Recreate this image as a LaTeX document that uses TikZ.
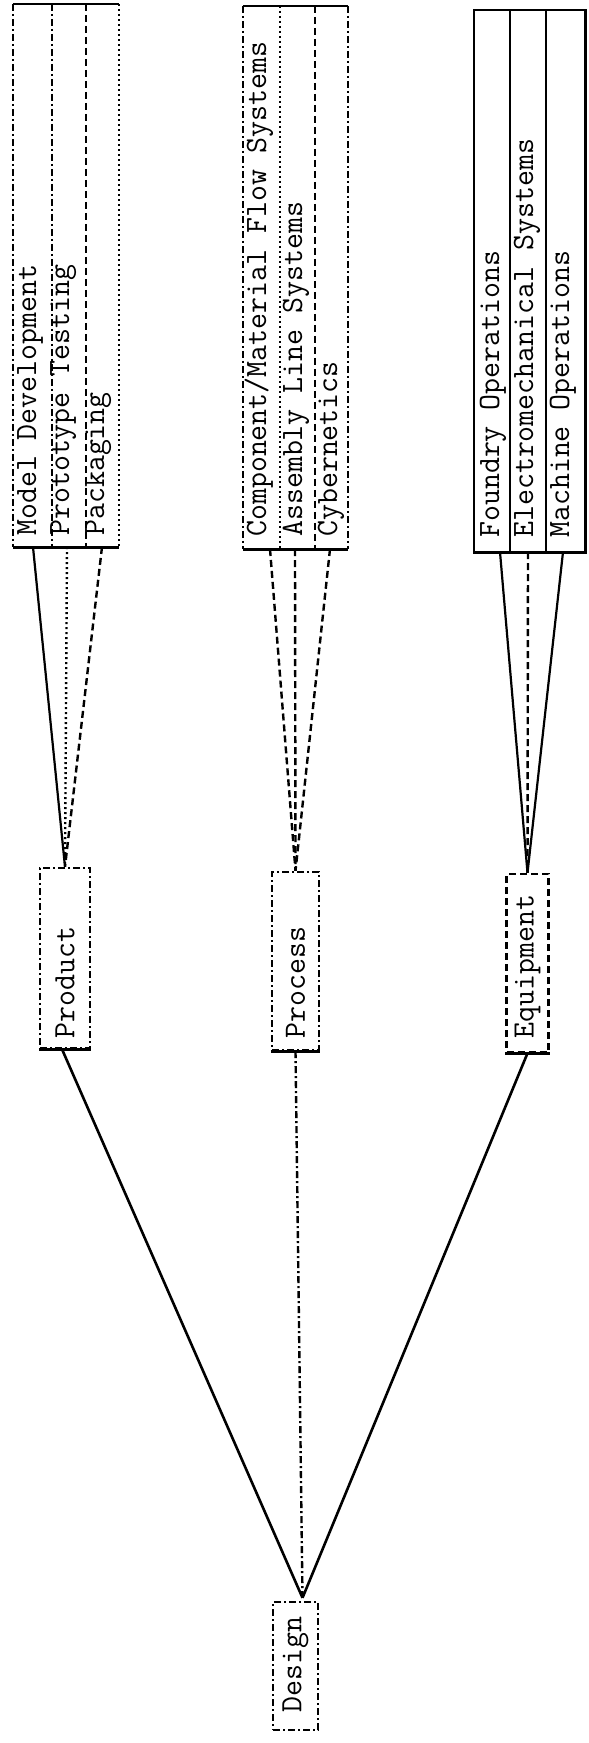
\documentclass[tikz,border=0pt]{standalone}
\usepackage{fontspec}
\usepackage{graphicx}
\usetikzlibrary{calc}
\newcommand{\twf}{\ttfamily\fontsize{31}{31}\selectfont\addfontfeatures{FakeBold=2.5}}
\newcommand{\rtext}[2]{\rotatebox{90}{\makebox[#1][l]{#2}}}
\begin{document}
\begin{tikzpicture}[x=1pt,y=-1pt,
  ln/.style={line width=2.6pt},
  thin/.style={line width=2.2pt},
  dd/.style={line width=2.4pt,dash pattern=on 7pt off 3pt on 2pt off 3pt},
  dsh/.style={line width=2.4pt,dash pattern=on 7pt off 4pt},
  dt/.style={line width=2.4pt,dash pattern=on 2pt off 3pt},
  tw/.style={font=\twf},
  lbl/.style={tw,rotate=90,anchor=mid west,inner sep=0pt},
  grp/.style={inner sep=0pt,draw=none},
  sbox/.style={tw,draw,dd,inner sep=0pt}
]
\useasboundingbox[fill=white] (0,0) rectangle (589,1743);

% ---------- group boxes ----------
\node[grp,minimum width=106pt,minimum height=543pt] (pg) at (66,275.5) {};
\node[grp,minimum width=105pt,minimum height=543pt] (rg) at (295.5,277.5) {};
\node[grp,minimum width=111pt,minimum height=542pt] (eg) at (529.5,281) {};

% product group outline
\draw[ln] (pg.north west) -- (pg.north east);
\draw[ln] (pg.south west) -- (pg.south east);
\draw[dd] (pg.north west) -- (pg.south west);
\draw[dd] ($(pg.north west)+(39,0)$) -- ($(pg.south west)+(39,0)$);
\draw[dsh] ($(pg.north west)+(73,0)$) -- ($(pg.south west)+(73,0)$);
\draw[dt] (pg.north east) -- (pg.south east);

% process group outline
\draw[ln] (rg.north west) -- (rg.north east);
\draw[ln] (rg.south west) -- (rg.south east);
\draw[dd] (rg.north west) -- (rg.south west);
\draw[dt] ($(rg.north west)+(37,0)$) -- ($(rg.south west)+(37,0)$);
\draw[dsh] ($(rg.north west)+(72,0)$) -- ($(rg.south west)+(72,0)$);
\draw[dd] (rg.north east) -- (rg.south east);

% equipment group outline
\draw[ln] (eg.north west) rectangle (eg.south east);
\draw[thin] ($(eg.north west)+(36,0)$) -- ($(eg.south west)+(36,0)$);
\draw[thin] ($(eg.north west)+(72,0)$) -- ($(eg.south west)+(72,0)$);

% ---------- column texts ----------
\node[lbl] (t11) at (34,536) {Model Development};
\node[lbl] (t12) at (67,536) {Prototype Testing};
\node[lbl] (t13) at (102,536) {Packaging};
\node[lbl] (t21) at (264,537) {Component/Material Flow Systems};
\node[lbl] (t22) at (300,537) {Assembly Line Systems};
\node[lbl] (t23) at (335,537) {Cybernetics};
\node[lbl] (t31) at (497,538) {Foundry Operations};
\node[lbl] (t32) at (531,538) {Electromechanical Systems};
\node[lbl] (t33) at (567,538) {Machine Operations};

% column bottom points
\coordinate (c11) at (33,547);
\coordinate (c12) at (67,547);
\coordinate (c13) at (102,547);
\coordinate (c21) at (270,549);
\coordinate (c22) at (295,549);
\coordinate (c23) at (330,549);
\coordinate (c31) at (500,552);
\coordinate (c32) at (528,552);
\coordinate (c33) at (563,552);

% ---------- middle boxes ----------
\node[sbox,minimum width=50pt,minimum height=180pt] (prod) at (65,958) {\rtext{160pt}{Product}};
\node[sbox,minimum width=47pt,minimum height=178pt] (proc) at (295.5,961) {\rtext{154pt}{Process}};
\node[sbox,dsh,minimum width=42pt,minimum height=178pt] (equip) at (527.5,963) {\rtext{150pt}{Equipment}};
\draw[ln] (prod.south west) -- (prod.south east);
\draw[ln] (proc.south west) -- (proc.south east);
\draw[ln] (equip.south west) -- (equip.south east);

% ---------- design box ----------
\node[sbox,minimum width=45pt,minimum height=128pt] (design) at (295.5,1666) {\rtext{92pt}{Design}};
\coordinate (dtop) at ($(design.north)+(7,-3)$);

% ---------- connectors ----------
\draw[thin] (c11) -- (prod.north);
\draw[dt] (c12) -- (prod.north);
\draw[dsh] (c13) -- (prod.north);

\draw[dsh] (c21) -- (proc.north);
\draw[dsh] (c22) -- (proc.north);
\draw[dsh] (c23) -- (proc.north);

\draw[thin] (c31) -- (equip.north);
\draw[dsh] (c32) -- (equip.north);
\draw[thin] (c33) -- (equip.north);

\draw[ln] ($(prod.south)+(-3,0)$) -- (dtop);
\draw[dd] (proc.south) -- (dtop);
\draw[ln] (equip.south) -- (dtop);
\end{tikzpicture}
\end{document}
